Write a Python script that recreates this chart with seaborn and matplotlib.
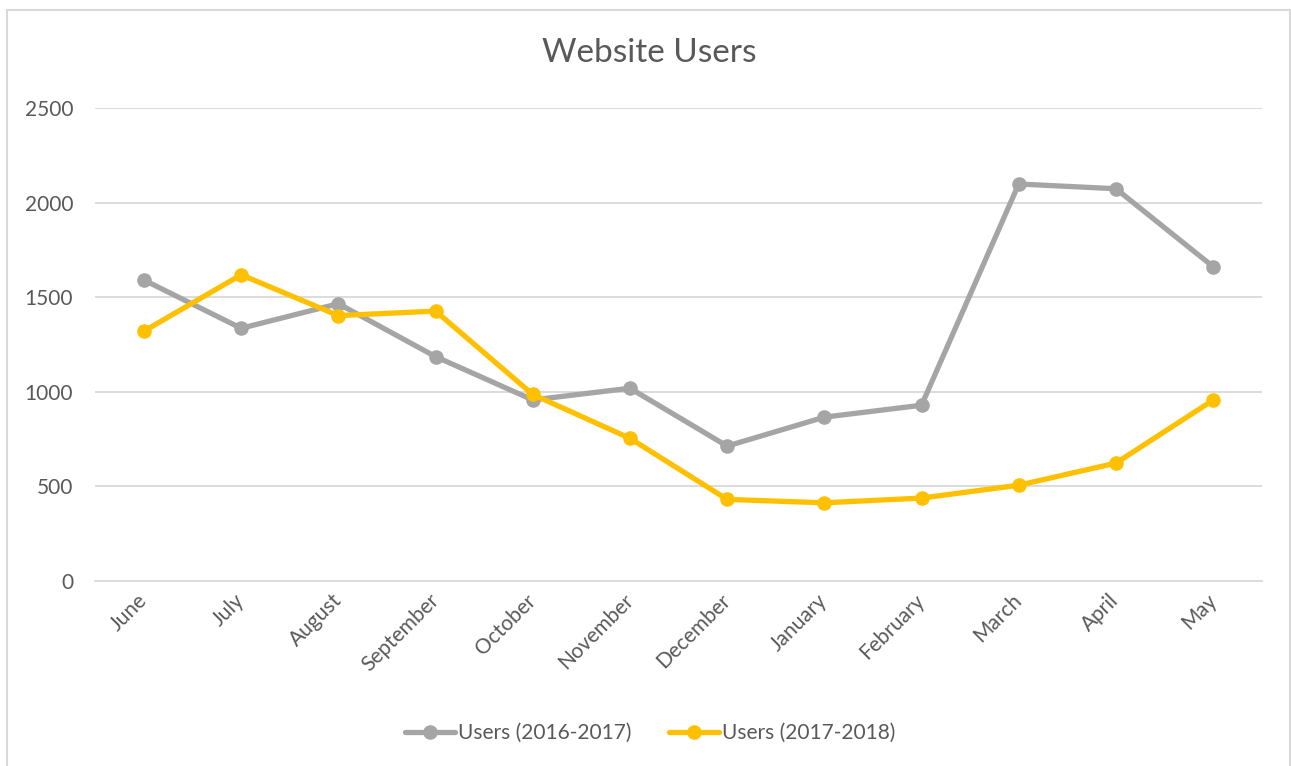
import matplotlib
matplotlib.use("Agg")
import matplotlib.pyplot as plt
from matplotlib.patches import Rectangle
from matplotlib.lines import Line2D
import seaborn as sns
import pandas as pd

months = ["June", "July", "August", "September", "October", "November",
          "December", "January", "February", "March", "April", "May"]
users_2016_2017 = [1590, 1335, 1465, 1185, 956, 1018, 712, 865, 928, 2098, 2073, 1661]
users_2017_2018 = [1320, 1618, 1402, 1426, 985, 753, 430, 412, 437, 505, 622, 955]
series_names = ["Users (2016-2017)", "Users (2017-2018)"]
y_ticks = [0, 500, 1000, 1500, 2000, 2500]
title = "Website Users"

sns.set_theme(style="white")
plt.rcParams['font.family'] = ['Lato', 'DejaVu Sans']

df = pd.DataFrame({
    "month": months * 2,
    "pos": list(range(len(months))) * 2,
    "users": users_2016_2017 + users_2017_2018,
    "series": [series_names[0]] * len(months) + [series_names[1]] * len(months),
})

W, H = 1291, 766
fig = plt.figure(figsize=(W / 100, H / 100), dpi=100)
ax = fig.add_axes([95.4 / W, 1 - 580.7 / H, (1261.7 - 95.4) / W, (580.7 - 108) / H])

palette = {series_names[0]: "#A5A5A5", series_names[1]: "#FFC000"}
sns.lineplot(data=df, x="pos", y="users", hue="series", palette=palette,
             marker="o", markersize=10.5, markeredgewidth=0, linewidth=3.8,
             ax=ax, legend=False, zorder=3)

text_color = "#595959"
grid_color = "#D9D9D9"
ax.set_xlim(-0.5, 11.5)
ax.set_ylim(0, 2500)
ax.set_yticks(y_ticks)
ax.set_yticklabels([str(v) for v in y_ticks], color=text_color, fontsize=15)
ax.tick_params(axis="y", length=0, pad=16)
for v in y_ticks[1:]:
    ax.axhline(v, color=grid_color, linewidth=1.3, zorder=1)

ax.set_xticks(list(range(len(months))) + [11.5])
ax.set_xticklabels(months + [""], rotation=45, ha="right", va="center",
                   rotation_mode="anchor", color=text_color, fontsize=15)
ax.tick_params(axis="x", direction="in", length=5, width=1.3, color=grid_color, pad=12)
ax.set_xlabel("")
ax.set_ylabel("")
for s in ["top", "right", "left"]:
    ax.spines[s].set_visible(False)
ax.spines["bottom"].set_color(grid_color)
ax.spines["bottom"].set_linewidth(1.3)
ax.spines["bottom"].set_zorder(2)

fig.text(649 / W, 1 - 53 / H, title, ha="center", va="center", color=text_color, fontsize=24)

# legend
handles = [Line2D([0], [0], color=palette[n], linewidth=3.8, marker="o", markersize=10.5,
                  markeredgewidth=0) for n in series_names]
leg = fig.legend(handles, series_names, loc="center", bbox_to_anchor=(650 / W, 1 - 733 / H),
                 ncol=2, frameon=False, fontsize=15, handlelength=2.4, handletextpad=0.15,
                 columnspacing=1.8, labelcolor=text_color)

fig.patches.append(Rectangle((7 / W, -0.05), (1290 - 7) / W, 1.05 - 10 / H,
                             transform=fig.transFigure, fill=False,
                             edgecolor=grid_color, linewidth=1.5))

fig.savefig("out.png", dpi=100, facecolor="white")
